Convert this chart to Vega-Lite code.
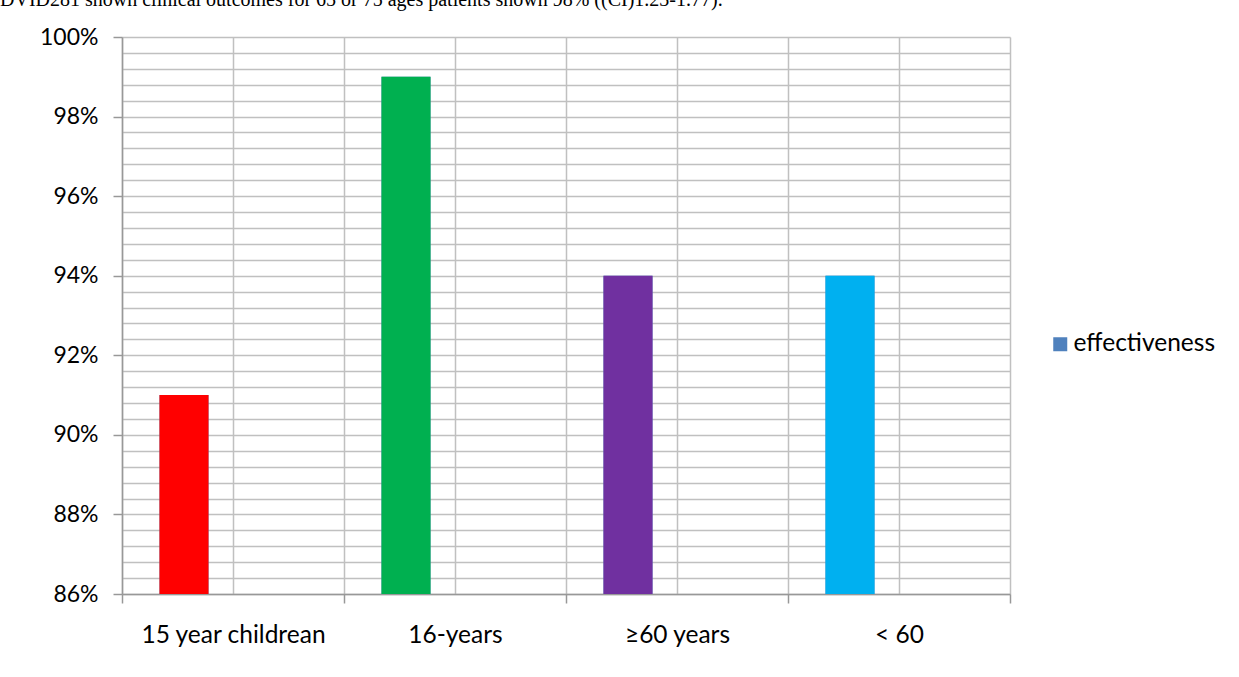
{
  "$schema": "https://vega.github.io/schema/vega-lite/v6.json",
  "width": 888,
  "height": 557,
  "autosize": "none",
  "padding": {"left": 122, "top": 37, "right": 229, "bottom": 83},
  "background": "white",
  "title": {
    "text": "DVID281 shown clinical outcomes for 65 or 75 ages patients shown 98% ((CI)1.23-1.77).",
    "anchor": "start",
    "frame": "group",
    "font": "Liberation Serif",
    "fontSize": 20,
    "fontWeight": "normal",
    "color": "black",
    "baseline": "alphabetic",
    "offset": 0,
    "dx": -122,
    "dy": 0
  },
  "data": {
    "values": [
      {"group": "15 year childrean", "series": "effectiveness", "value": 0.91},
      {"group": "16-years", "series": "effectiveness", "value": 0.99},
      {"group": "≥60 years", "series": "effectiveness", "value": 0.94},
      {"group": "< 60", "series": "effectiveness", "value": 0.94}
    ]
  },
  "config": {
    "view": {"stroke": null},
    "axis": {
      "gridColor": "#c0c0c0",
      "gridWidth": 1.5,
      "domainColor": "#989898",
      "domainWidth": 1.5,
      "tickColor": "#989898",
      "tickWidth": 1.5,
      "labelColor": "black",
      "labelFont": "Lato",
      "labelFontSize": 23,
      "labelLimit": 400,
      "title": null
    }
  },
  "encoding": {
    "x": {
      "field": "group",
      "type": "nominal",
      "sort": null,
      "scale": {"paddingInner": 0, "paddingOuter": 0}
    },
    "xOffset": {
      "field": "series",
      "type": "nominal",
      "scale": {
        "domain": ["effectiveness", "Series2", "Series3"],
        "paddingInner": 0,
        "paddingOuter": 0.765
      }
    },
    "y": {
      "field": "value",
      "type": "quantitative",
      "scale": {"domain": [0.86, 1], "nice": false, "zero": false}
    }
  },
  "layer": [
    {
      "mark": {"type": "bar", "clip": true},
      "encoding": {
        "x": {
          "field": "group",
          "type": "nominal",
          "sort": null,
          "axis": {
            "orient": "bottom",
            "tickBand": "extent",
            "grid": true,
            "tickSize": 9,
            "labelAngle": 0,
            "labelPadding": 20,
            "labelFontSize": 24.5,
            "labelLimit": 400
          }
        },
        "y": {
          "field": "value",
          "type": "quantitative",
          "axis": {
            "orient": "left",
            "values": [0.86, 0.864, 0.868, 0.872, 0.876, 0.88, 0.884, 0.888, 0.892, 0.896, 0.9, 0.904, 0.908, 0.912, 0.916, 0.92, 0.924, 0.928, 0.932, 0.936, 0.94, 0.944, 0.948, 0.952, 0.956, 0.96, 0.964, 0.968, 0.972, 0.976, 0.98, 0.984, 0.988, 0.992, 0.996, 1.0],
            "grid": true,
            "ticks": false,
            "labels": false,
            "domain": false
          }
        },
        "color": {
          "field": "series",
          "type": "nominal",
          "scale": {"domain": ["effectiveness"], "range": ["#4f81bd"]},
          "legend": {
            "title": null,
            "orient": "none",
            "legendX": 926,
            "legendY": 295,
            "symbolType": "square",
            "symbolSize": 196,
            "symbolStrokeWidth": 0,
            "labelFont": "Lato",
            "labelFontSize": 24.5,
            "labelColor": "black",
            "labelOffset": 1,
            "labelLimit": 300
          }
        }
      }
    },
    {
      "mark": {"type": "bar", "clip": true},
      "encoding": {
        "x": {
          "field": "group",
          "type": "nominal",
          "sort": null,
          "axis": {
            "orient": "top",
            "grid": true,
            "ticks": false,
            "labels": false,
            "domain": false
          }
        },
        "y": {
          "field": "value",
          "type": "quantitative",
          "axis": {
            "orient": "left",
            "values": [0.86, 0.88, 0.9, 0.92, 0.94, 0.96, 0.98, 1.0],
            "format": ".0%",
            "grid": false,
            "tickSize": 9,
            "labelPadding": 15
          }
        },
        "fill": {
          "field": "group",
          "type": "nominal",
          "scale": {
            "domain": ["15 year childrean", "16-years", "≥60 years", "< 60"],
            "range": ["#ff0000", "#00b050", "#7030a0", "#00b0f0"]
          },
          "legend": null
        }
      }
    }
  ],
  "resolve": {"axis": {"x": "independent", "y": "independent"}}
}
